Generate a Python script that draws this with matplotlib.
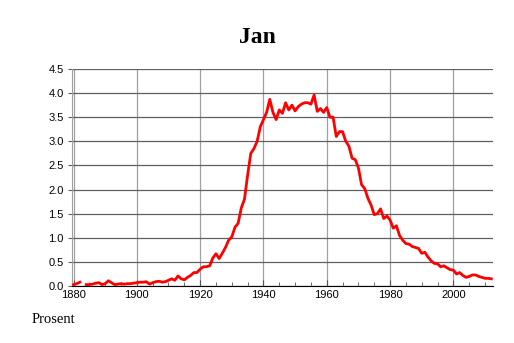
import numpy as np
import matplotlib.pyplot as plt
from matplotlib.ticker import MultipleLocator

years = list(range(1880, 2013))
values = [0.03, 0.05, 0.08, np.nan, 0.03, 0.03, 0.04, 0.06, 0.07, 0.03,
          0.05, 0.11, 0.07, 0.03, 0.04, 0.05, 0.04, 0.05, 0.05, 0.06,
          0.07, 0.08, 0.08, 0.09, 0.04, 0.07, 0.09, 0.10, 0.08, 0.09,
          0.12, 0.15, 0.12, 0.21, 0.15, 0.13, 0.18, 0.22, 0.28, 0.28,
          0.35, 0.40, 0.40, 0.42, 0.58, 0.67, 0.57, 0.68, 0.80, 0.95,
          1.02, 1.22, 1.30, 1.62, 1.80, 2.30, 2.75, 2.85, 3.00, 3.30,
          3.45, 3.60, 3.87, 3.60, 3.45, 3.65, 3.58, 3.80, 3.65, 3.75,
          3.63, 3.72, 3.77, 3.80, 3.80, 3.77, 3.96, 3.62, 3.68, 3.60,
          3.70, 3.50, 3.50, 3.10, 3.20, 3.20, 3.00, 2.90, 2.65, 2.62,
          2.45, 2.10, 2.02, 1.82, 1.68, 1.48, 1.50, 1.60, 1.40, 1.45,
          1.37, 1.20, 1.25, 1.05, 0.95, 0.88, 0.87, 0.82, 0.80, 0.78,
          0.68, 0.70, 0.60, 0.52, 0.47, 0.46, 0.40, 0.42, 0.38, 0.34,
          0.33, 0.25, 0.28, 0.22, 0.18, 0.20, 0.23, 0.23, 0.20, 0.18,
          0.16, 0.16, 0.15]

fig = plt.figure(figsize=(5.14, 3.43), dpi=100)
ax = fig.add_axes([0.140, 0.166, 0.819, 0.633])

ax.plot(years, values, color='#ff0000', linewidth=2.0, zorder=3)

ax.set_xlim(1879.5, 2012.5)
ax.set_ylim(0, 4.5)
ax.xaxis.set_major_locator(MultipleLocator(20))
ax.xaxis.set_minor_locator(MultipleLocator(5))
ax.yaxis.set_major_locator(MultipleLocator(0.5))
ax.yaxis.set_major_formatter(plt.FormatStrFormatter('%.1f'))

ax.grid(axis='y', color='#606060', linewidth=0.9)
ax.grid(axis='x', which='major', color='#a0a0a0', linewidth=0.9)

for s in ['top', 'right']:
    ax.spines[s].set_visible(False)
ax.spines['left'].set_color('#a0a0a0')
ax.spines['bottom'].set_color('black')

ax.tick_params(axis='x', which='major', direction='in', length=4, color='#555555',
               labelsize=8, pad=2.5)
ax.tick_params(axis='x', which='minor', direction='in', length=3, color='#555555')
ax.tick_params(axis='y', direction='out', length=3, color='#606060', labelsize=8, pad=3)
for lab in ax.get_xticklabels() + ax.get_yticklabels():
    lab.set_family('Liberation Sans')

fig.text(0.5, 0.875, 'Jan', ha='center', fontsize=17, fontweight='bold',
         family='Liberation Serif')
fig.text(0.062, 0.058, 'Prosent', fontsize=10.5, family='Liberation Serif')

fig.savefig('out.png', dpi=100)
